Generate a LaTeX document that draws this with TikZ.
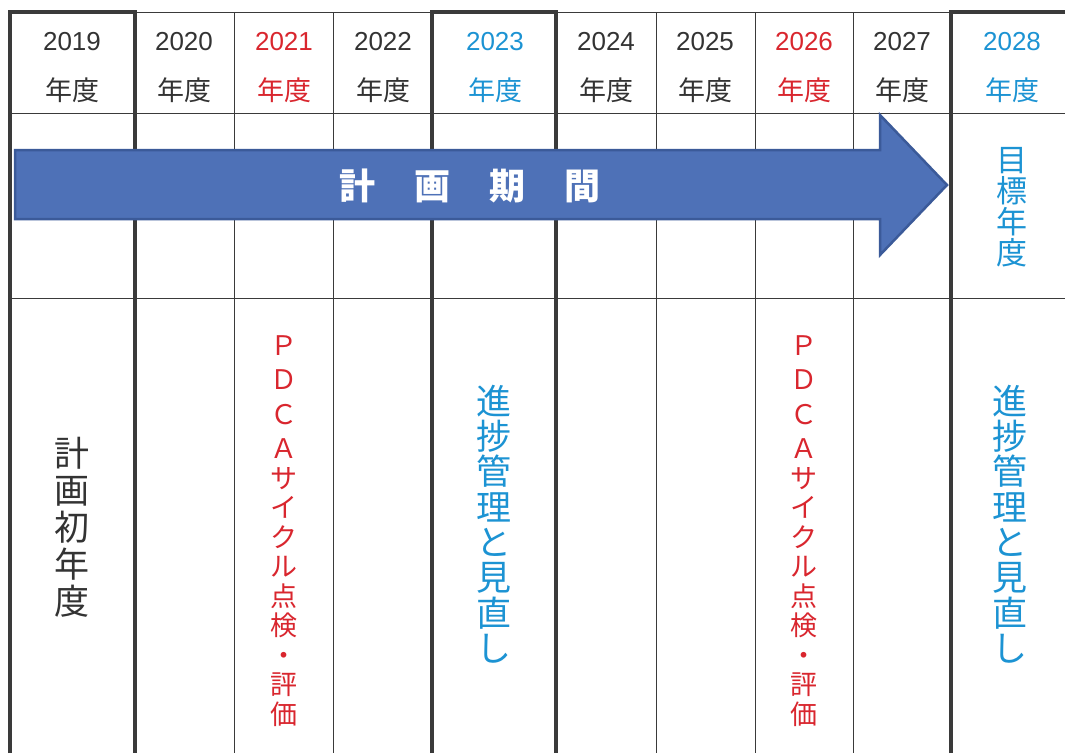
\documentclass[tikz,border=0pt]{standalone}
\usepackage{fontspec}
\setmainfont{Liberation Sans}
\newfontfamily\jp{Noto Sans CJK JP}
\definecolor{txtgray}{HTML}{333333}
\definecolor{txtred}{HTML}{D9262E}
\definecolor{txtblue}{HTML}{1C93D3}
\definecolor{linegray}{HTML}{3A3A3A}
\definecolor{arrowfill}{HTML}{4E71B7}
\definecolor{arrowline}{HTML}{3B5A99}
\tikzset{
  thin line/.style={draw=linegray, line width=1pt},
  thick line/.style={draw=linegray, line width=4pt},
  yearlbl/.style={font=\fontsize{26}{28}\selectfont, inner sep=0pt},
  nendo/.style={font=\jp\fontsize{27}{29}\selectfont, inner sep=0pt},
  vtext/.style={align=center, inner sep=0pt},
}
\begin{document}
\begin{tikzpicture}[x=1pt,y=-1pt]
\useasboundingbox[fill=white] (0,0) rectangle (1065,753);
% thin grid
\draw[thin line] (10,12) -- (1065,12);
\draw[thin line] (10,113) -- (1065,113);
\draw[thin line] (10,298) -- (1065,298);
\foreach \x in {234,333,656,755,853}{
  \draw[thin line] (\x,12) -- (\x,753);
}
% thick boxes
\draw[thick line] (10,753) -- (10,12) -- (135,12) -- (135,753);
\draw[thick line] (432,753) -- (432,12) -- (556,12) -- (556,753);
\draw[thick line] (951,753) -- (951,12) -- (1065,12);
% header
\foreach \yr/\x/\c in {2019/72/txtgray,2020/184/txtgray,2021/284/txtred,2022/383/txtgray,2023/495/txtblue,2024/606/txtgray,2025/705/txtgray,2026/804/txtred,2027/902/txtgray,2028/1012/txtblue}{
  \node[yearlbl, text=\c] (y\yr) at (\x,42) {\yr};
  \node[nendo, text=\c] (n\yr) at (\x,90) {年度};
}
% arrow
\draw[fill=arrowfill, draw=arrowline, line width=2.5pt, line join=miter]
  (15,150) -- (880,150) -- (880,115) -- (947,185) -- (880,255) -- (880,219) -- (15,219) -- cycle;
\node[text=white, font=\jp\bfseries\fontsize{36}{38}\selectfont, inner sep=0pt] (period) at (470,186)
  {計\hspace{39pt}画\hspace{39pt}期\hspace{39pt}間};
% upper right
\node[vtext, text=txtblue, font=\jp\fontsize{31}{31}\selectfont] (target) at (1012,207) {目\\標\\年\\度};
% lower texts
\node[vtext, text=txtgray, font=\jp\fontsize{35}{37}\selectfont] (first) at (72,527) {計\\画\\初\\年\\度};
\node[vtext, text=txtred, font=\jp\fontsize{27}{29.5}\selectfont] (pdca1) at (284,531)
  {Ｐ\\[5pt]Ｄ\\[5pt]Ｃ\\[5pt]Ａ\\サ\\イ\\ク\\ル\\点\\検\\・\\評\\価};
\node[vtext, text=txtred, font=\jp\fontsize{27}{29.5}\selectfont] (pdca2) at (804,531)
  {Ｐ\\[5pt]Ｄ\\[5pt]Ｃ\\[5pt]Ａ\\サ\\イ\\ク\\ル\\点\\検\\・\\評\\価};
\node[vtext, text=txtblue, font=\jp\fontsize{35}{35.3}\selectfont] (review1) at (494,524)
  {進\\捗\\管\\理\\と\\見\\直\\し};
\node[vtext, text=txtblue, font=\jp\fontsize{35}{35.3}\selectfont] (review2) at (1010,524)
  {進\\捗\\管\\理\\と\\見\\直\\し};
\end{tikzpicture}
\end{document}
